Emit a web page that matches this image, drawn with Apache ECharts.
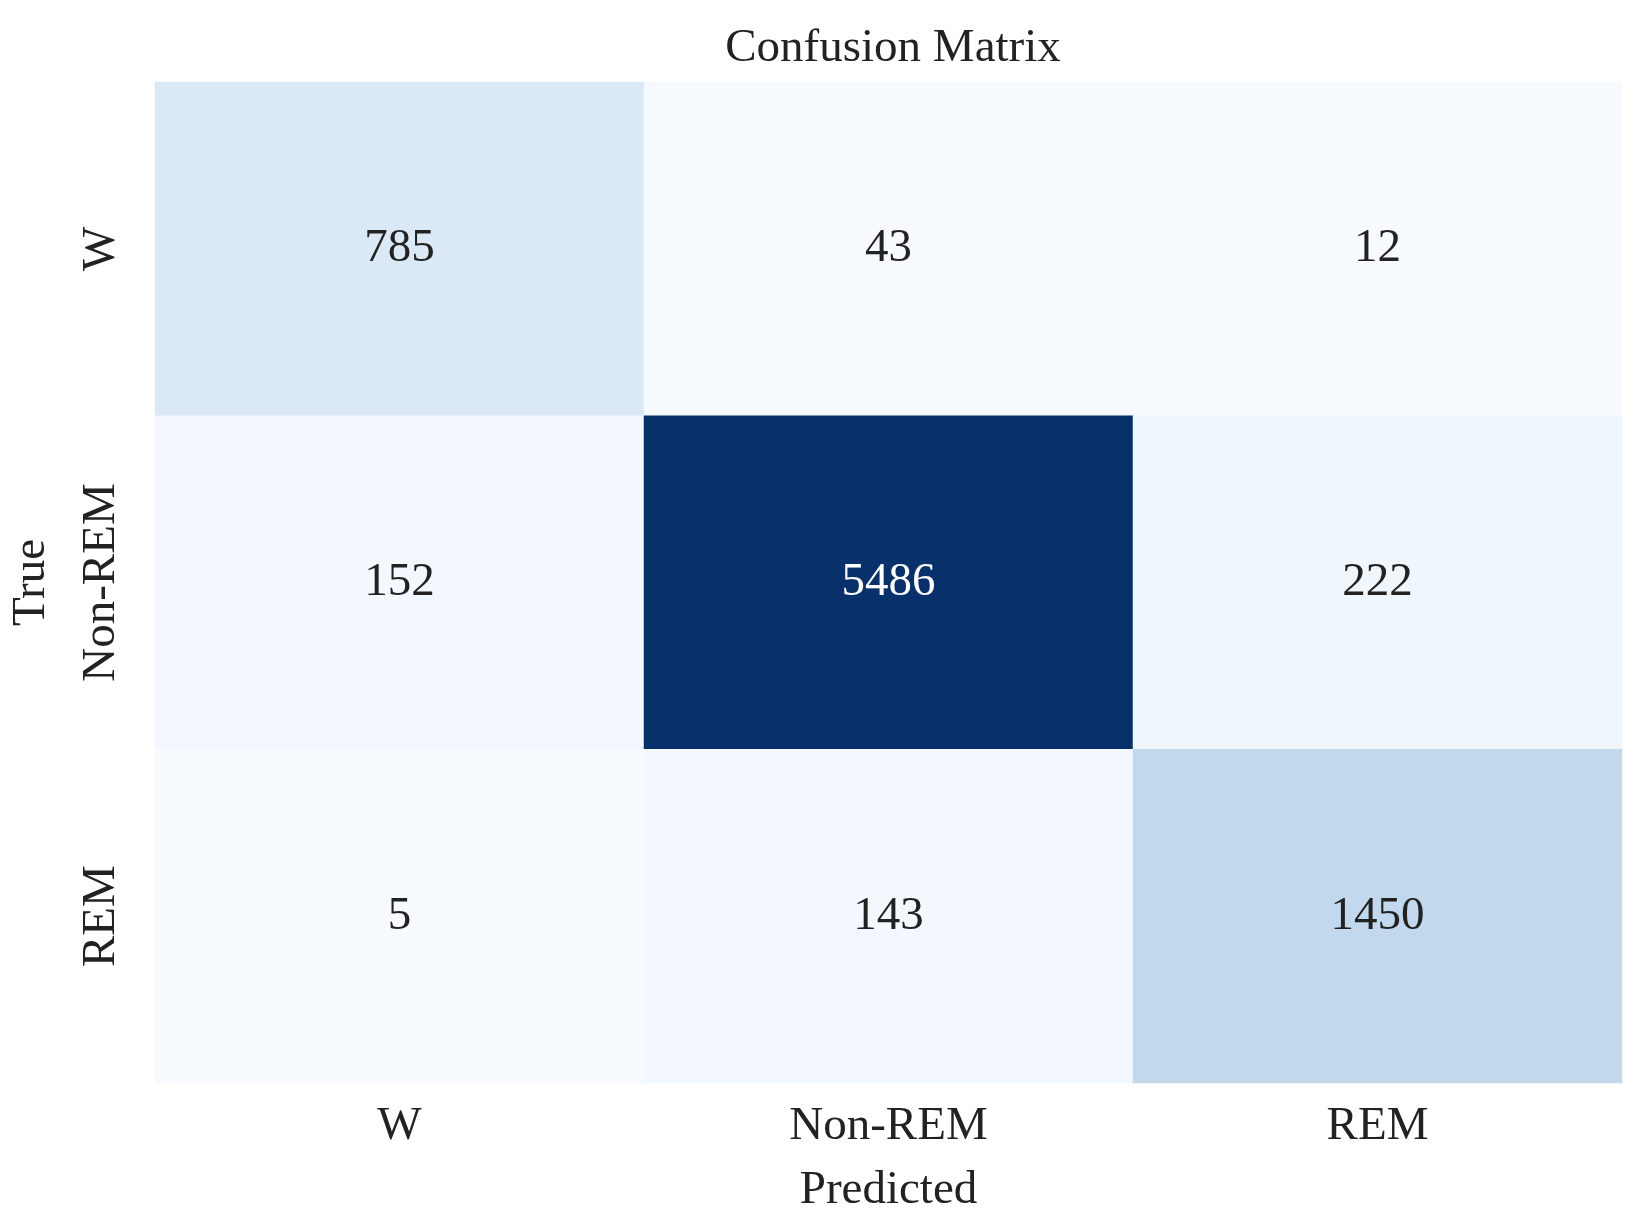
<!DOCTYPE html>
<html>
<head>
<meta charset="utf-8">
<script src="https://cdn.jsdelivr.net/npm/echarts@6/dist/echarts.min.js"></script>
<style>html,body{margin:0;padding:0;background:#fff}#main{width:1641px;height:1219px}</style>
</head>
<body>
<div id="main"></div>
<script>
var predictedLabels = ['W', 'Non-REM', 'REM'];
var trueLabels = ['W', 'Non-REM', 'REM'];
// rows = true class, columns = predicted class
var rowW = [785, 43, 12];
var rowNonREM = [152, 5486, 222];
var rowREM = [5, 143, 1450];

var rows = [rowW, rowNonREM, rowREM];
var cells = [];
rows.forEach(function (r, i) {
    r.forEach(function (v, j) { cells.push([j, i, v]); });
});

var font = 'Liberation Serif, Times New Roman, serif';
var fs = 47;
var myChart = echarts.init(document.getElementById('main'));
var option = {
    backgroundColor: '#fff',
    title: {
        text: 'Confusion Matrix',
        left: 888, top: 20, textAlign: 'center',
        textStyle: {fontFamily: font, fontSize: fs, fontWeight: 'normal', color: '#222'}
    },
    grid: {left: 154, right: 19, top: 82, bottom: 134},
    xAxis: {
        type: 'category', data: predictedLabels, position: 'bottom',
        name: 'Predicted', nameLocation: 'middle', nameGap: 84,
        nameTextStyle: {fontFamily: font, fontSize: fs, color: '#222'},
        axisLine: {show: false}, axisTick: {show: false}, splitLine: {show: false},
        axisLabel: {fontFamily: font, fontSize: fs, color: '#222', margin: 20}
    },
    yAxis: {
        type: 'category', data: trueLabels, inverse: true,
        name: 'True', nameLocation: 'middle', nameGap: 100, nameRotate: 90,
        nameTextStyle: {fontFamily: font, fontSize: fs, color: '#222'},
        axisLine: {show: false}, axisTick: {show: false}, splitLine: {show: false},
        axisLabel: {fontFamily: font, fontSize: fs, color: '#222', rotate: 90, margin: 30}
    },
    visualMap: {
        show: false, min: 5, max: 5486, dimension: 2,
        inRange: {color: ['#f7fbff', '#deebf7', '#c6dbef', '#9ecae1', '#6baed6', '#4292c6', '#2171b5', '#08519c', '#08306b']}
    },
    series: [{
        type: 'heatmap',
        label: {
            show: true, fontFamily: font, fontSize: fs,
            formatter: function (p) { return p.value[2]; }
        },
        itemStyle: {borderWidth: 0},
        // white text on dark cells
        data: cells.map(function (c) {
            return {value: c, label: {color: c[2] > 3000 ? '#fff' : '#222'}};
        })
    }]
};
myChart.setOption(option);
</script>
</body>
</html>
